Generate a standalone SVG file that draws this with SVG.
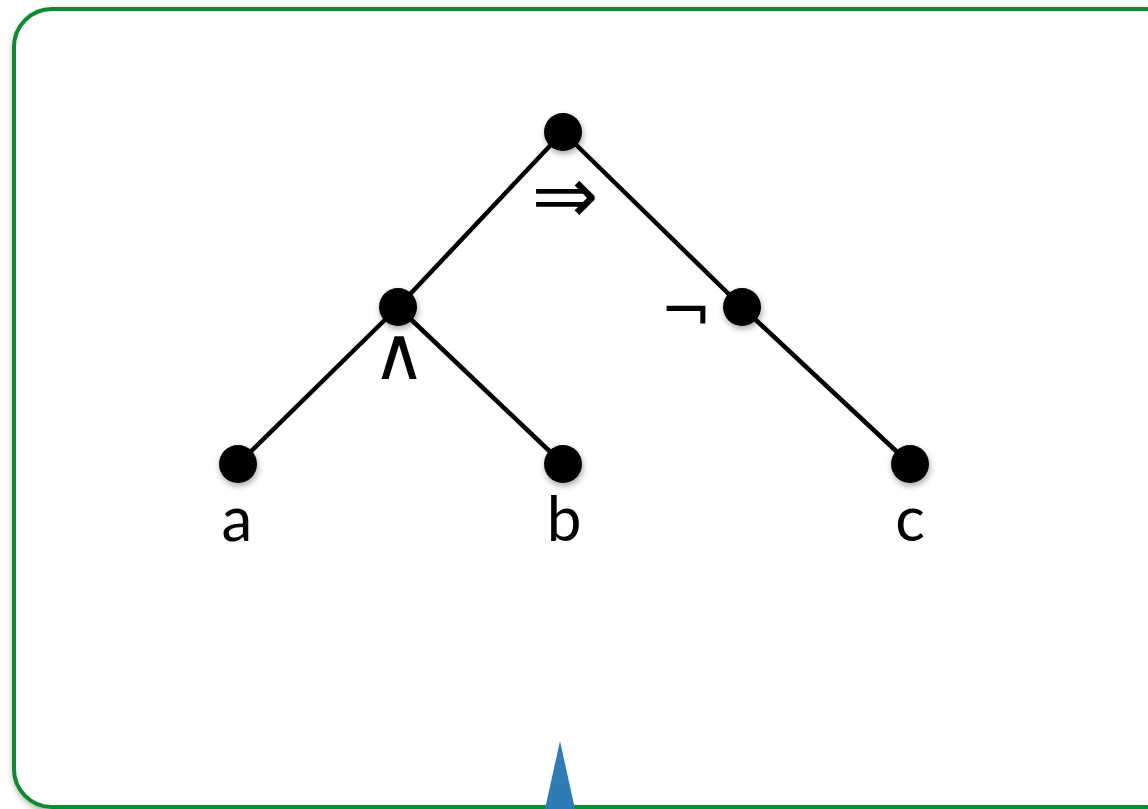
<svg xmlns="http://www.w3.org/2000/svg" width="1148" height="809" viewBox="0 0 1148 809">
<defs>
<filter id="sh" x="-20%" y="-20%" width="150%" height="150%">
<feDropShadow dx="1" dy="3" stdDeviation="3" flood-color="#000" flood-opacity="0.35"/>
</filter>
<style>
.edge{stroke:#000;stroke-width:4.5;fill:none}
.node{fill:#000;filter:url(#sh)}
.lbl{font-family:"Lato","Open Sans",sans-serif;font-size:62px;fill:#000;text-anchor:middle}
.op{font-family:"DejaVu Sans",sans-serif;fill:#000;text-anchor:middle}
</style>
</defs>
<rect width="1148" height="809" fill="#fff"/>
<g id="frame">
<rect x="14" y="9" width="1170" height="798" rx="38" ry="38" fill="#fff" stroke="#0b8a2f" stroke-width="4" filter="url(#sh)"/>
</g>
<g id="connectors">
<line class="edge" x1="563" y1="132" x2="398" y2="307"/>
<line class="edge" x1="563" y1="132" x2="742" y2="307"/>
<line class="edge" x1="398" y1="307" x2="238" y2="464"/>
<line class="edge" x1="398" y1="307" x2="563" y2="464"/>
<line class="edge" x1="742" y1="307" x2="910" y2="464"/>
</g>
<g id="n-implies"><circle class="node" cx="563" cy="132" r="19"/><text class="op" x="565" y="223" font-size="80">⇒</text></g>
<g id="n-and"><circle class="node" cx="398" cy="307" r="19"/><text class="op" x="399" y="379" font-size="74">∧</text></g>
<g id="n-not"><circle class="node" cx="742" cy="307" r="19"/><text class="op" x="686" y="332" font-size="62">¬</text></g>
<g id="n-a"><circle class="node" cx="238" cy="464" r="19"/><text class="lbl" x="237" y="541">a</text></g>
<g id="n-b"><circle class="node" cx="563" cy="464" r="19"/><text class="lbl" x="564" y="541">b</text></g>
<g id="n-c"><circle class="node" cx="910" cy="464" r="19"/><text class="lbl" x="910" y="541">c</text></g>
<g id="pointer"><polygon points="560,741 545,809 575,809" fill="#2f7bb6"/></g>
</svg>
